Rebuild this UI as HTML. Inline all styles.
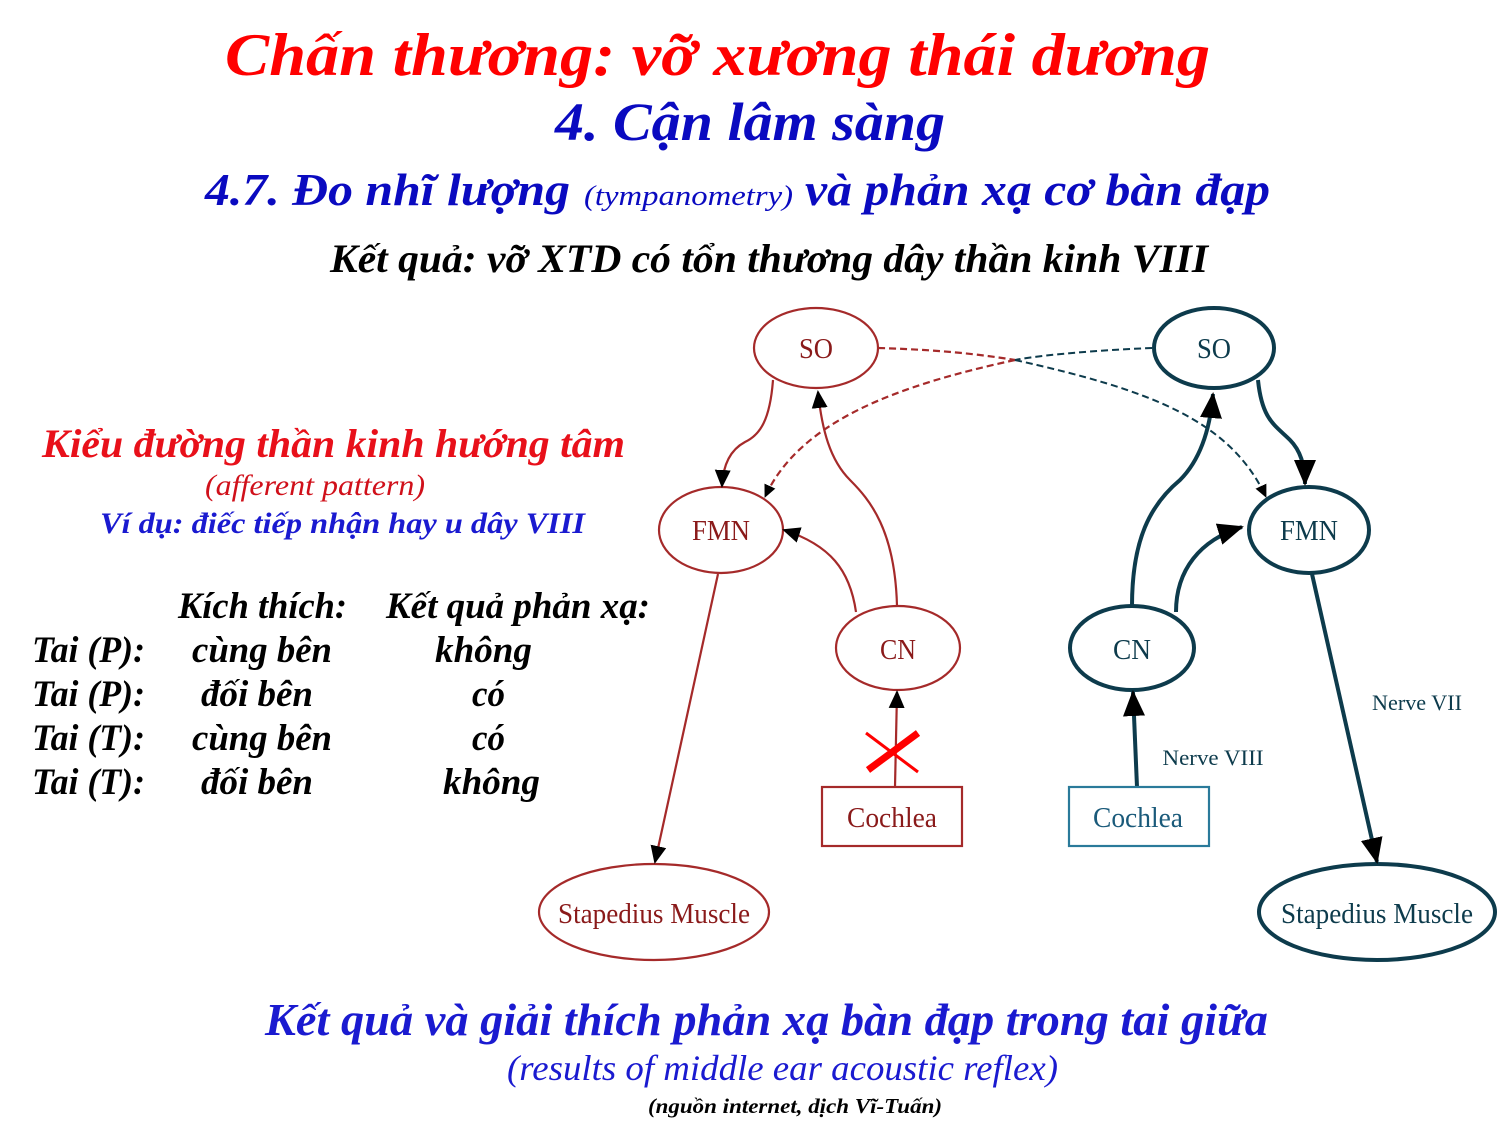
<!DOCTYPE html>
<html><head><meta charset="utf-8"><style>html,body{margin:0;padding:0;background:#fff}svg{display:block}</style></head>
<body>
<svg width="1500" height="1125" viewBox="0 0 1500 1125" xmlns="http://www.w3.org/2000/svg" font-family="'Liberation Serif', serif">
<defs>
<marker id="ar" markerUnits="userSpaceOnUse" markerWidth="20" markerHeight="20" refX="16" refY="8" orient="auto"><path d="M0,0 L18,8 L0,16 Z" fill="#000"/></marker>
<marker id="arb" markerUnits="userSpaceOnUse" markerWidth="28" markerHeight="24" refX="24" refY="11" orient="auto"><path d="M0,0 L26,11 L0,22 Z" fill="#000"/></marker>
<marker id="ars" markerUnits="userSpaceOnUse" markerWidth="16" markerHeight="14" refX="12" refY="6" orient="auto"><path d="M0,0 L13,6 L0,12 Z" fill="#000"/></marker>
</defs>
<g font-style="italic" font-weight="bold">
<text x="225" y="75" font-size="60" fill="#f00" textLength="985" lengthAdjust="spacingAndGlyphs">Chấn thương: vỡ xương thái dương</text>
<text x="555" y="140" font-size="54" fill="#0a0ac0" textLength="390" lengthAdjust="spacingAndGlyphs">4. Cận lâm sàng</text>
<text x="205" y="205" font-size="46" fill="#0a0ac0" textLength="365" lengthAdjust="spacingAndGlyphs">4.7. Đo nhĩ lượng</text>
<text x="584" y="205" font-size="28" font-weight="normal" fill="#0a0ac0" textLength="209" lengthAdjust="spacingAndGlyphs">(tympanometry)</text>
<text x="805" y="205" font-size="46" fill="#0a0ac0" textLength="465" lengthAdjust="spacingAndGlyphs">và phản xạ cơ bàn đạp</text>
<text x="330" y="272" font-size="40" fill="#000" textLength="878" lengthAdjust="spacingAndGlyphs">Kết quả: vỡ XTD có tổn thương dây thần kinh VIII</text>
<text x="42" y="457" font-size="40" fill="#e8101a" textLength="583" lengthAdjust="spacingAndGlyphs">Kiểu đường thần kinh hướng tâm</text>
<text x="205" y="495" font-size="30" font-weight="normal" fill="#d0101a" textLength="220" lengthAdjust="spacingAndGlyphs">(afferent pattern)</text>
<text x="100" y="533" font-size="30" fill="#1a1ad0" textLength="485" lengthAdjust="spacingAndGlyphs">Ví dụ: điếc tiếp nhận hay u dây VIII</text>
<g font-size="37" fill="#000">
<text x="178" y="618" textLength="169" lengthAdjust="spacingAndGlyphs">Kích thích:</text>
<text x="386" y="618" textLength="264" lengthAdjust="spacingAndGlyphs">Kết quả phản xạ:</text>
<text x="32" y="662" textLength="113" lengthAdjust="spacingAndGlyphs">Tai (P):</text>
<text x="32" y="706" textLength="113" lengthAdjust="spacingAndGlyphs">Tai (P):</text>
<text x="32" y="750" textLength="113" lengthAdjust="spacingAndGlyphs">Tai (T):</text>
<text x="32" y="794" textLength="113" lengthAdjust="spacingAndGlyphs">Tai (T):</text>
<text x="192" y="662" textLength="140" lengthAdjust="spacingAndGlyphs">cùng bên</text>
<text x="201" y="706" textLength="112" lengthAdjust="spacingAndGlyphs">đối bên</text>
<text x="192" y="750" textLength="140" lengthAdjust="spacingAndGlyphs">cùng bên</text>
<text x="201" y="794" textLength="112" lengthAdjust="spacingAndGlyphs">đối bên</text>
<text x="435" y="662" textLength="97" lengthAdjust="spacingAndGlyphs">không</text>
<text x="472" y="706" textLength="33" lengthAdjust="spacingAndGlyphs">có</text>
<text x="472" y="750" textLength="33" lengthAdjust="spacingAndGlyphs">có</text>
<text x="443" y="794" textLength="97" lengthAdjust="spacingAndGlyphs">không</text>
</g>
<text x="265" y="1035" font-size="46" fill="#1a1ad0" textLength="1003" lengthAdjust="spacingAndGlyphs">Kết quả và giải thích phản xạ bàn đạp trong tai giữa</text>
<text x="507" y="1080" font-size="36" font-weight="normal" fill="#1a1ad0" textLength="551" lengthAdjust="spacingAndGlyphs">(results of middle ear acoustic reflex)</text>
<text x="648" y="1113" font-size="21" fill="#000" textLength="294" lengthAdjust="spacingAndGlyphs">(nguồn internet, dịch Vĩ-Tuấn)</text>
</g>

<!-- left diagram -->
<g fill="none" stroke="#a52a2a" stroke-width="2.2">
<ellipse cx="816" cy="348" rx="62" ry="40"/>
<ellipse cx="721" cy="530" rx="62" ry="43"/>
<ellipse cx="898" cy="648" rx="62" ry="42"/>
<ellipse cx="654" cy="912" rx="115" ry="48"/>
<rect x="822" y="787" width="140" height="59"/>
<path d="M773,380 C770,420 760,435 745,442 C730,450 723,465 722,486" marker-end="url(#ar)"/>
<path d="M856,612 C850,570 830,545 784,530" marker-end="url(#ar)"/>
<path d="M897,606 C895,530 870,500 850,480 C830,460 822,430 818,392" marker-end="url(#ar)"/>
<path d="M718,574 L655,862" marker-end="url(#ar)"/>
<path d="M895,787 L897,692" marker-end="url(#ar)"/>
<path d="M878,348 C950,350 990,356 1015,360" stroke-dasharray="7,4"/>
<path d="M1015,360 C900,385 800,420 765,497" stroke-dasharray="7,4" marker-end="url(#ars)"/>
</g>
<!-- right diagram -->
<g fill="none" stroke="#0d3b4c">
<path d="M1152,348 C1100,350 1040,355 1015,360" stroke-width="2" stroke-dasharray="7,4"/>
<path d="M1015,360 C1150,390 1230,420 1266,497" stroke-width="2" stroke-dasharray="7,4" marker-end="url(#ars)"/>
<g stroke-width="4">
<ellipse cx="1214" cy="348" rx="60" ry="40"/>
<ellipse cx="1309" cy="530" rx="60" ry="43"/>
<ellipse cx="1132" cy="648" rx="62" ry="42"/>
<ellipse cx="1377" cy="912" rx="118" ry="48"/>
<path d="M1258,380 C1262,420 1275,425 1290,440 C1300,450 1305,465 1305,484" marker-end="url(#arb)"/>
<path d="M1132,606 C1132,540 1150,505 1180,480 C1200,460 1210,430 1213,394" marker-end="url(#arb)"/>
<path d="M1176,612 C1176,570 1200,540 1242,527" marker-end="url(#arb)"/>
<path d="M1312,574 L1377,862" marker-end="url(#arb)"/>
<path d="M1137,787 L1133,692" marker-end="url(#arb)"/>
</g>
<rect x="1069" y="787" width="140" height="59" stroke="#2a7a9a" stroke-width="2.2"/>
</g>
<!-- red X -->
<g stroke="#f00" stroke-width="7"><line x1="868" y1="770" x2="918" y2="733"/><line x1="866" y1="733" x2="918" y2="772" stroke-width="3"/></g>
<g font-size="28" text-anchor="middle" fill="#8a1a1a">
<text x="816" y="358" textLength="34" lengthAdjust="spacingAndGlyphs">SO</text>
<text x="721" y="540" textLength="58" lengthAdjust="spacingAndGlyphs">FMN</text>
<text x="898" y="659" textLength="36" lengthAdjust="spacingAndGlyphs">CN</text>
<text x="892" y="827" textLength="90" lengthAdjust="spacingAndGlyphs">Cochlea</text>
<text x="654" y="923" textLength="192" lengthAdjust="spacingAndGlyphs">Stapedius Muscle</text>
</g>
<g font-size="28" text-anchor="middle" fill="#0d3b4c">
<text x="1214" y="358" textLength="34" lengthAdjust="spacingAndGlyphs">SO</text>
<text x="1309" y="540" textLength="58" lengthAdjust="spacingAndGlyphs">FMN</text>
<text x="1132" y="659" textLength="38" lengthAdjust="spacingAndGlyphs">CN</text>
<text x="1138" y="827" textLength="90" lengthAdjust="spacingAndGlyphs" fill="#1a5a7a">Cochlea</text>
<text x="1377" y="923" textLength="192" lengthAdjust="spacingAndGlyphs">Stapedius Muscle</text>
<text x="1213" y="765" font-size="22" textLength="101" lengthAdjust="spacingAndGlyphs">Nerve VIII</text>
<text x="1417" y="710" font-size="22" textLength="90" lengthAdjust="spacingAndGlyphs">Nerve VII</text>
</g>
</svg>
</body></html>
